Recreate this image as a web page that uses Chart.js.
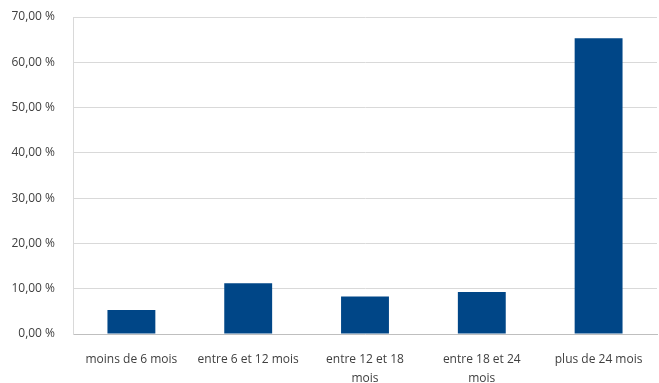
<!DOCTYPE html>
<html lang="fr">
<head>
  <meta charset="UTF-8" />
  <title>Répartition par ancienneté</title>
  <script src="https://cdn.jsdelivr.net/npm/chart.js"></script>
  <style>
    html, body { margin: 0; padding: 0; background: #fff; }
    #chart { display: block; }
  </style>
</head>
<body>
  <canvas id="chart" width="659" height="383"></canvas>
  <script>
    const categories = [
      "moins de 6 mois",
      "entre 6 et 12 mois",
      ["entre 12 et 18", "mois"],
      ["entre 18 et 24", "mois"],
      "plus de 24 mois"
    ];
    const values = [5.3, 11.2, 8.3, 9.3, 65.3];
    const yTicks = [0, 10, 20, 30, 40, 50, 60, 70];
    const yTickLabels = ["0,00 %", "10,00 %", "20,00 %", "30,00 %", "40,00 %", "50,00 %", "60,00 %", "70,00 %"];

    const textColor = "#404040";
    const font = { family: "'Open Sans', sans-serif", size: 12 };

    new Chart(document.getElementById("chart"), {
      type: "bar",
      data: {
        labels: categories,
        datasets: [{
          data: values,
          backgroundColor: "#004687",
          barPercentage: 0.41,
          categoryPercentage: 1
        }]
      },
      options: {
        responsive: false,
        animation: false,
        layout: { padding: { top: 17, right: 2, left: 0, bottom: 0 } },
        plugins: { legend: { display: false }, tooltip: { enabled: false } },
        scales: {
          x: {
            grid: { display: false },
            border: { color: "#bfbfbf", width: 1 },
            ticks: {
              color: textColor,
              font: { family: font.family, size: 12, lineHeight: 1.6 },
              maxRotation: 0, autoSkip: false, padding: 8
            },
            afterFit: (s) => { s.height = 49; }
          },
          y: {
            min: 0,
            max: 70,
            afterBuildTicks: (s) => { s.ticks = yTicks.map(v => ({ value: v })); },
            grid: { color: "#d9d9d9", drawTicks: false },
            border: { color: "#d9d9d9", width: 1 },
            ticks: {
              color: textColor,
              font: font,
              padding: 18,
              callback: (v) => yTickLabels[yTicks.indexOf(v)]
            },
            afterFit: (s) => { s.width = 73; s.paddingTop = 0; s.paddingBottom = 0; }
          }
        }
      }
    });
  </script>
</body>
</html>
